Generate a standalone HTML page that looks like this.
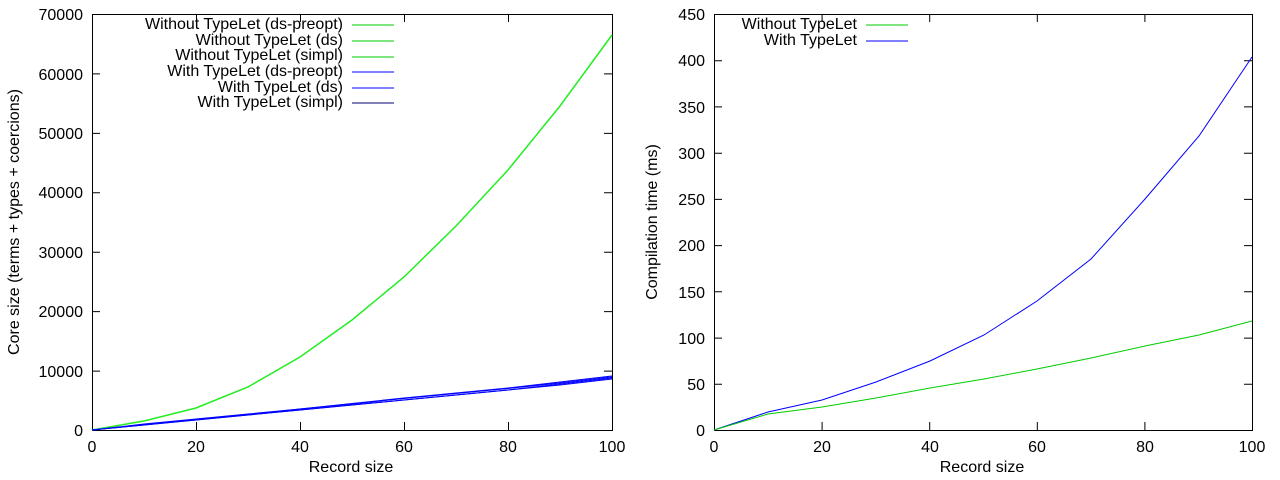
<!DOCTYPE html>
<html><head><style>body{margin:0;background:#fff}svg{display:block}text{font-family:"Liberation Sans",sans-serif;font-size:16px;fill:#000}</style></head><body>
<svg width="1280" height="480" xmlns="http://www.w3.org/2000/svg">
<g stroke="#000" fill="none" stroke-width="1">
<rect x="92.5" y="14.5" width="520" height="416"/>
<rect x="714.5" y="14.5" width="538" height="416"/>
</g>
<g stroke="#000" stroke-width="1">
<path d="M92 430.5h8M92 371.1h8M92 311.6h8M92 252.2h8M92 192.8h8M92 133.4h8M92 73.9h8M92 14.5h8
M612 371.1h-8M612 311.6h-8M612 252.2h-8M612 192.8h-8M612 133.4h-8M612 73.9h-8
M92.5 430v-8M196.5 430v-8M300.5 430v-8M404.5 430v-8M508.5 430v-8M612.5 430v-8
M196.5 14v8M300.5 14v8M404.5 14v8M508.5 14v8"/>
<path d="M714 430.5h8M714 384.3h8M714 338.1h8M714 291.8h8M714 245.6h8M714 199.4h8M714 153.2h8M714 106.9h8M714 60.7h8M714 14.5h8
M1252 384.3h-8M1252 338.1h-8M1252 291.8h-8M1252 245.6h-8M1252 199.4h-8M1252 153.2h-8M1252 106.9h-8M1252 60.7h-8
M714.5 430v-8M822.1 430v-8M929.7 430v-8M1037.3 430v-8M1144.9 430v-8
M822.1 14v8M929.7 14v8M1037.3 14v8M1144.9 14v8"/>
</g>
<g text-anchor="end">
<text x="83" y="436">0</text><text x="83" y="377">10000</text><text x="83" y="317">20000</text><text x="83" y="258">30000</text><text x="83" y="198">40000</text><text x="83" y="139">50000</text><text x="83" y="80">60000</text><text x="83" y="20">70000</text>
<text x="705" y="436">0</text><text x="705" y="390">50</text><text x="705" y="344">100</text><text x="705" y="298">150</text><text x="705" y="251">200</text><text x="705" y="205">250</text><text x="705" y="159">300</text><text x="705" y="113">350</text><text x="705" y="66">400</text><text x="705" y="20">450</text>
</g>
<g text-anchor="middle">
<text x="92" y="452">0</text><text x="196" y="452">20</text><text x="300" y="452">40</text><text x="404" y="452">60</text><text x="508" y="452">80</text><text x="612" y="452">100</text>
<text x="714" y="452">0</text><text x="822" y="452">20</text><text x="930" y="452">40</text><text x="1037" y="452">60</text><text x="1145" y="452">80</text><text x="1252" y="452">100</text>
<text x="351" y="472">Record size</text><text x="982" y="472">Record size</text>
<text transform="translate(19 222) rotate(-90)">Core size (terms + types + coercions)</text>
<text transform="translate(657 222) rotate(-90)">Compilation time (ms)</text>
</g>
<g text-anchor="end">
<text x="343" y="29">Without TypeLet (ds-preopt)</text>
<text x="343" y="45">Without TypeLet (ds)</text>
<text x="343" y="60">Without TypeLet (simpl)</text>
<text x="343" y="76">With TypeLet (ds-preopt)</text>
<text x="343" y="92">With TypeLet (ds)</text>
<text x="343" y="107">With TypeLet (simpl)</text>
<text x="857" y="29">Without TypeLet</text>
<text x="857" y="45">With TypeLet</text>
</g>
<g fill="none" stroke-width="1">
<path stroke="#0c0" d="M352 25h42M352 41h42M352 57h42"/>
<path stroke="#00f" d="M352 72h42M352 88h42"/>
<path stroke="#007" d="M352 103h42"/>
<path stroke="#0c0" d="M866 25h42"/><path stroke="#00f" d="M866 41h42"/>
<path stroke="#2e2" stroke-width="1.5" d="M92 430L144 421L196 408L248 387L300 357L352 320L404 277L456 226L508 170L560 106L612 35"/>
<path stroke="#00f" d="M92 430L144 424L196 419L248 414L300 409L352 403.5L404 398L456 393L508 388L560 382L612 376"/>
<path stroke="#00f" d="M92 430L144 424.5L196 419.5L248 414.5L300 409L352 404L404 398.5L456 393.5L508 388.5L560 383L612 377"/>
<path stroke="#00f" d="M92 430L144 425L196 420L248 415L300 410L352 405L404 400L456 395L508 390L560 384L612 378"/>
<path stroke="#00f" d="M92 430L144 425L196 420L248 415L300 410L352 405L404 400L456 395L508 390L560 385L612 379"/>
<path stroke="#00f" d="M714 430L768 412L822 400L876 382L930 361L984 335L1037 301L1091 259L1145 199L1199 136L1252 57"/>
<path stroke="#0c0" d="M714 430L768 414L822 407L876 398L930 388L984 379L1037 369L1091 358L1145 346L1199 335L1252 321"/>
</g>
</svg>
</body></html>
